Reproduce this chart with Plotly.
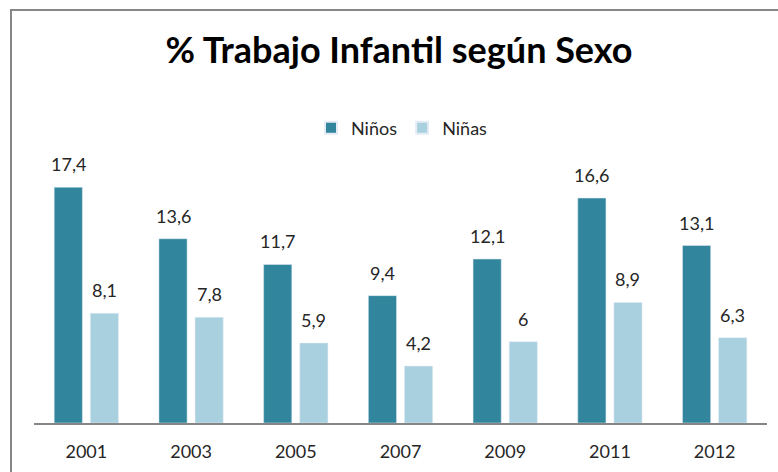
import plotly.graph_objects as go

years = ["2001", "2003", "2005", "2007", "2009", "2011", "2012"]
ninos = [17.4, 13.6, 11.7, 9.4, 12.1, 16.6, 13.1]
ninas = [8.1, 7.8, 5.9, 4.2, 6.0, 8.9, 6.3]

def fmt(v):
    return ("%g" % v).replace(".", ",")

FONT = "Lato, Open Sans, sans-serif"
LBL = dict(size=18, color="#262626", family=FONT)

fig = go.Figure()
fig.add_trace(go.Bar(name="Niños", x=years, y=ninos, marker_color="#31859C"))
fig.add_trace(go.Bar(name="Niñas", x=years, y=ninas, marker_color="#A8D0DE"))

# data labels above bars (category index, offset to each bar of the group)
for vals, dx in ((ninos, -18), (ninas, 18)):
    for i, v in enumerate(vals):
        fig.add_annotation(x=i, y=v, xref="x", yref="y", text=fmt(v), showarrow=False,
                           xshift=dx, yshift=10, yanchor="bottom", font=LBL)

W, H = 778, 472
l, r, t, b = 34, 11, 152, 49
pw, ph = W - l - r, H - t - b

fig.update_layout(
    width=W, height=H,
    margin=dict(l=l, r=r, t=t, b=b, autoexpand=False),
    paper_bgcolor="white", plot_bgcolor="white",
    font=dict(family=FONT, color="#262626"),
    barmode="group", bargap=0.31, bargroupgap=0.22,
    title=dict(text="<b>% Trabajo Infantil según Sexo</b>", x=399 / W, xanchor="center",
               y=1 - 50 / H, yanchor="middle", font=dict(size=36, color="black", family=FONT)),
    legend=dict(orientation="h", x=(402 - l) / pw, xanchor="center",
                y=(H - b - 128) / ph, yanchor="middle", font=dict(size=18),
                itemsizing="constant", itemwidth=30),
    xaxis=dict(type="category", range=[-0.5, len(years) - 0.5], showline=True,
               linecolor="#868686", linewidth=1.5, ticks="",
               tickfont=dict(size=18, color="#262626"), ticklabelstandoff=12),
    yaxis=dict(range=[0, 20], visible=False),
    showlegend=True,
)

x0 = (11 - l) / pw
y1 = (H - b - 10) / ph
fig.add_shape(type="rect", xref="paper", yref="paper", x0=x0, y0=-0.5, x1=1.2, y1=y1,
              line=dict(color="#868686", width=2), layer="below")

fig.write_html("out.html", config={"displayModeBar": False},
               post_script="document.body.style.margin='0';document.body.style.overflow='hidden';")
